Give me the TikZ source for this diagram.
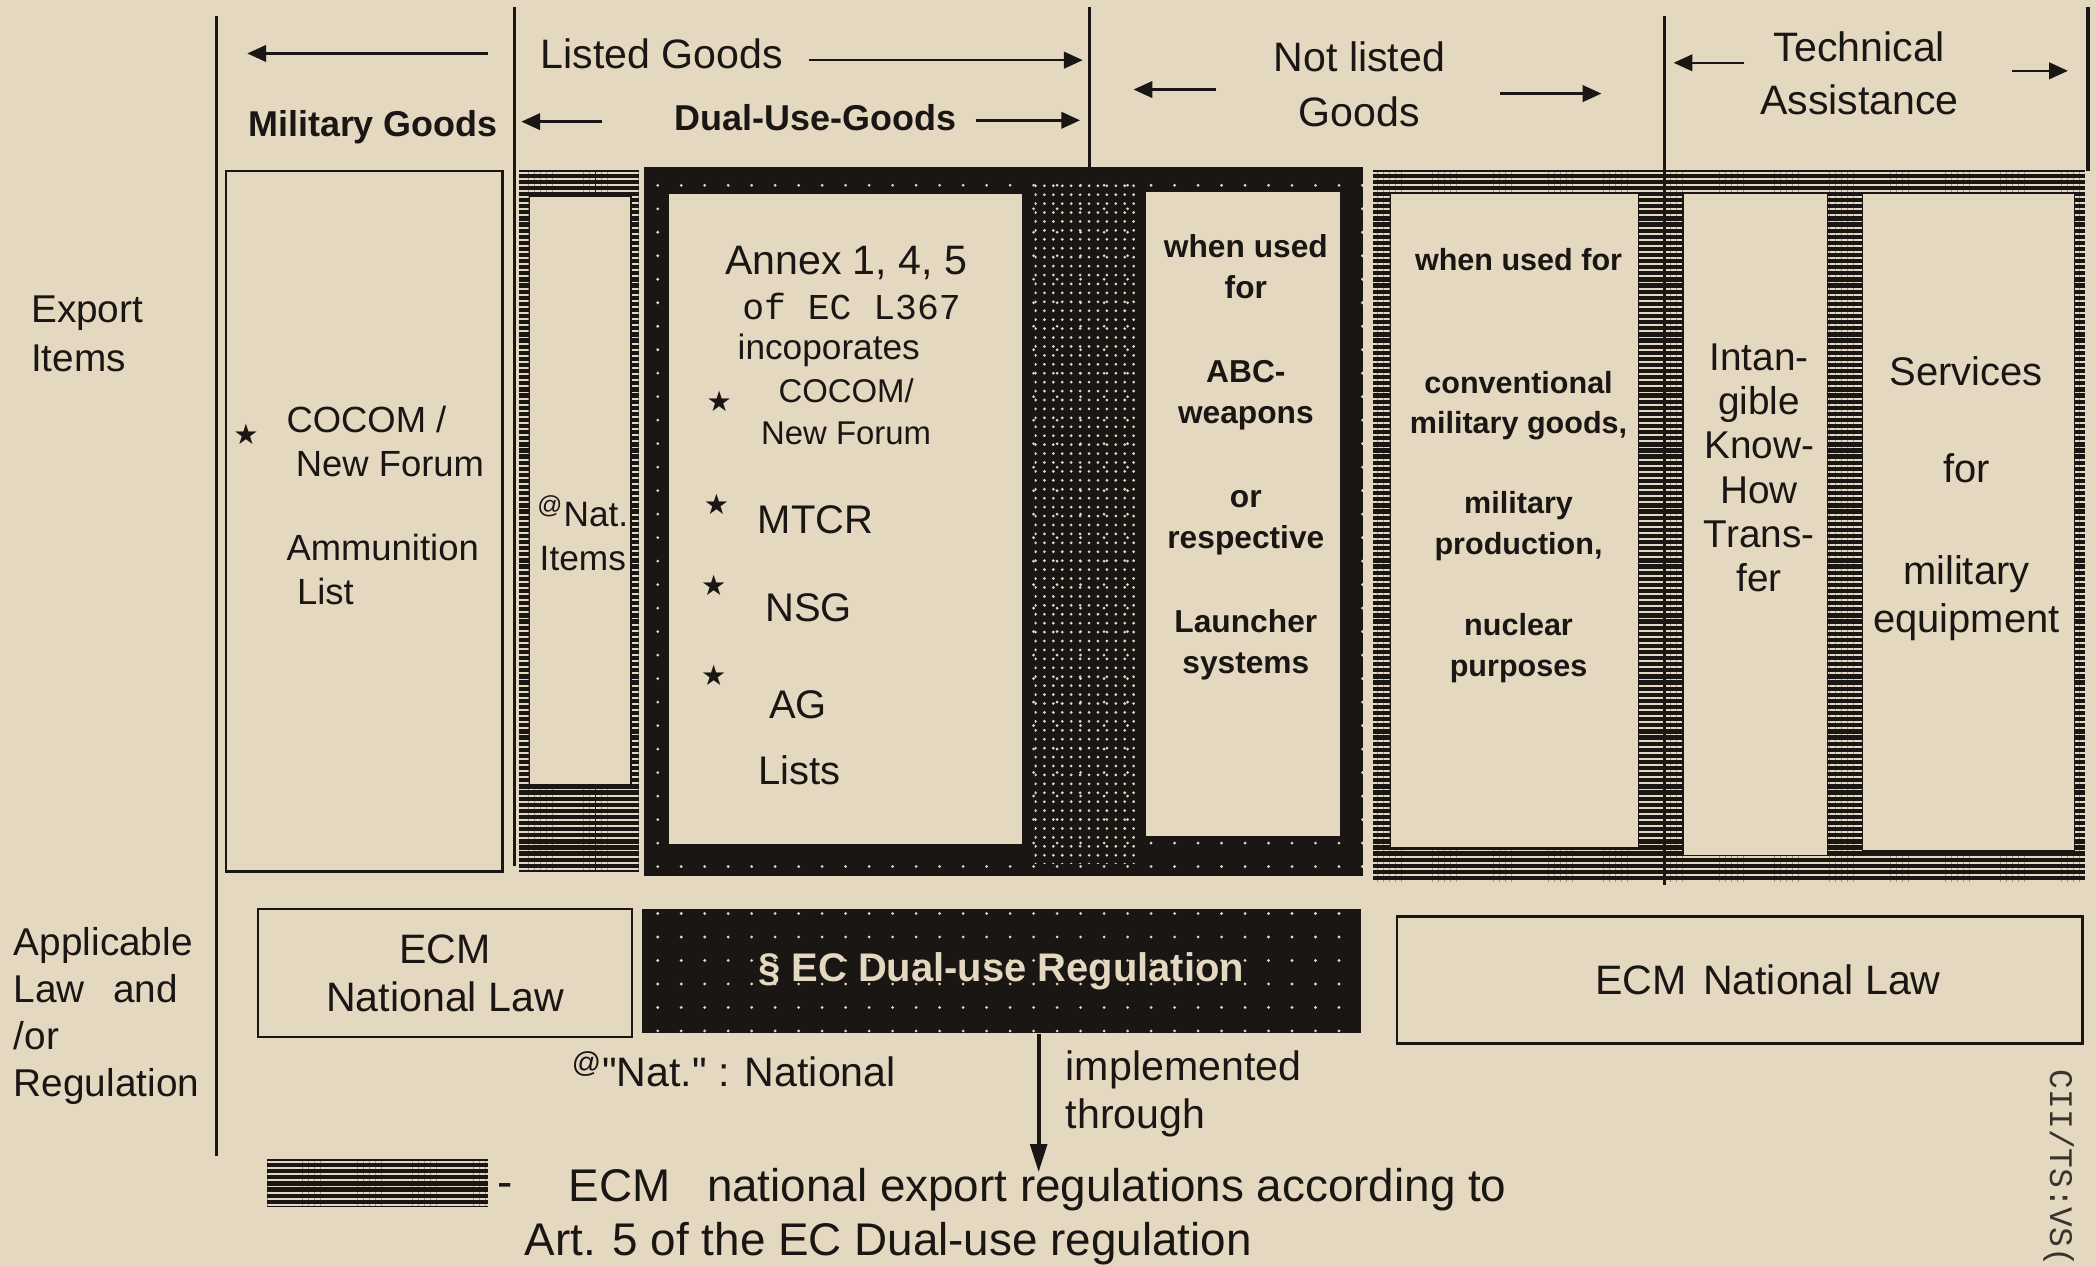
\documentclass[tikz,border=0pt]{standalone}
\usepackage{fontspec}
\setmainfont{Liberation Sans}[Ligatures=TeXOff]
\newfontfamily\typefont{Liberation Mono}
\newfontfamily\starfont{DejaVu Sans}
\usetikzlibrary{arrows.meta,patterns.meta}
\definecolor{paper}{RGB}{229,216,193}
\definecolor{ink}{RGB}{26,22,20}
\tikzset{
  fs/.style 2 args={font=\fontsize{#1}{#2}\selectfont},
  fsb/.style 2 args={font=\bfseries\fontsize{#1}{#2}\selectfont},
  lbl/.style={text=ink, inner sep=0pt, align=center},
  colrule/.style={draw=ink, line width=1.4pt},
  hdarrow/.style={draw=ink, line width=1.1pt, -{Triangle[length=8pt,width=7pt]}},
  downarrow/.style={draw=ink, line width=1.8pt, -{Triangle[length=12pt,width=7pt]}},
  thinbox/.style={draw=ink, line width=1pt},
  pocket/.style={fill=paper, draw=ink, line width=.5pt},
  dotframe/.style={fill=ink, postaction={pattern={Dots[distance=10pt,radius=.65pt]}, pattern color=paper}},
  dotcolumn/.style={pattern={Dots[distance=3.8pt,radius=.65pt]}, pattern color=paper},
  lineframe/.style={fill=ink, postaction={pattern={Lines[distance=2.6pt,line width=.8pt]}, pattern color=paper}},
  starmark/.style={text=ink, inner sep=0pt, font=\starfont\fontsize{12}{12}\selectfont}
}

\begin{document}
\begin{tikzpicture}[x=0.2mm,y=-0.2mm]
\useasboundingbox (0,0) rectangle (1568,947);
\fill[paper] (0,0) rectangle (1568,947);
\clip (0,0) rectangle (1568,947);

\path[lineframe] (388,127) rectangle (478,652);
\path[pocket] (396,147) rectangle (472,587);
\path[dotframe] (482,125) rectangle (1020,655);
\path[dotcolumn] (774,134) rectangle (849,646);
\path[pocket] (500,145) rectangle (765,632);
\path[pocket] (857,143) rectangle (1003,626);
\path[lineframe] (1027,127) rectangle (1560,660);
\path[pocket] (1040,145) rectangle (1226,634);
\path[pocket] (1259,145) rectangle (1367,640);
\path[pocket] (1393,145) rectangle (1552,636);
\draw[thinbox] (169,128) rectangle (376,652);

\draw[colrule] (162,12) -- (162,865);
\draw[colrule] (385,5) -- (385,648);
\draw[colrule] (815,5) -- (815,125);
\draw[colrule] (1245,12) -- (1245,662);
\draw[colrule] (1562,5) -- (1562,128);

\node[lbl, fs={17.5}{23.3}] (listed) at (495,40) {Listed Goods};
\node[lbl, fsb={15.3}{18}] (military) at (279,95) {Military Goods};
\node[lbl, fsb={15.3}{18}] (dualuse) at (610,88) {Dual-Use-Goods};
\node[lbl, fs={17.5}{23.3}] (notlisted) at (1017,63) {Not listed\\Goods};
\node[lbl, fs={17.5}{22.8}] (techass) at (1391,55) {Technical\\Assistance};

\coordinate (mgA) at (365,40); \coordinate (mgB) at (185,40);
\coordinate (lgA) at (605,45); \coordinate (lgB) at (810,45);
\coordinate (duA) at (450,91); \coordinate (duB) at (390,91);
\coordinate (duC) at (730,90); \coordinate (duD) at (808,90);
\coordinate (nlA) at (910,67); \coordinate (nlB) at (848,67);
\coordinate (nlC) at (1122,70); \coordinate (nlD) at (1198,70);
\coordinate (taA) at (1305,47); \coordinate (taB) at (1252,47);
\coordinate (taC) at (1505,53); \coordinate (taD) at (1547,53);
\foreach \s/\e in {mgA/mgB,lgA/lgB,duA/duB,duC/duD,nlA/nlB,nlC/nlD,taA/taB,taC/taD}
  \draw[hdarrow] (\s) -- (\e);

\node[lbl, fs={16.5}{21}, align=left, anchor=west] (export) at (23,250) {Export\\Items};
\node[lbl, fs={16.5}{20}, align=left, anchor=west] (applic) at (10,760) {Applicable\\Law\hspace{12pt}and\\/or\\Regulation};

\node[starmark] (st0) at (184,325) {★};
\node[lbl, fs={15.5}{18.8}, align=left, anchor=west] (milist) at (214,378) {COCOM /\\\hspace*{4pt}New Forum\\[17pt]Ammunition\\\hspace*{4.5pt}List};
\node[lbl, fs={15}{18.8}] (natitems) at (436,399) {\textsuperscript{@}Nat.\\Items};

\node[lbl, fs={17.5}{20}] (annex) at (633,197) {Annex 1, 4, 5};
\node[lbl, font=\typefont\fontsize{15.5}{18}\selectfont] (eclaw) at (637,229) {of EC L367};
\node[lbl, fs={15}{18}] (incorp) at (620,262) {incoporates};
\node[starmark] (st1) at (538,300) {★};
\node[lbl, fs={14}{18.2}] (cocom) at (633,308) {COCOM/\\New Forum};
\node[starmark] (st2) at (536,377) {★};
\node[lbl, fs={17}{20}] (mtcr) at (610,389) {MTCR};
\node[starmark] (st3) at (534,438) {★};
\node[lbl, fs={17}{20}] (nsg) at (605,455) {NSG};
\node[starmark] (st4) at (534,505) {★};
\node[lbl, fs={17}{20}] (ag) at (597,527) {AG};
\node[lbl, fs={17}{20}] (lists) at (598,576) {Lists};

\node[lbl, fsb={13.5}{17.6}] (abc) at (932,342) {when used\\for\\[18pt]ABC-\\weapons\\[18pt]or\\respective\\[18pt]Launcher\\systems};
\node[lbl, fsb={13}{17.4}] (conv) at (1136,348) {when used for\\[35pt]conventional\\military goods,\\[16.5pt]military\\production,\\[17pt]nuclear\\purposes};
\node[lbl, fs={16.5}{18.8}] (intang) at (1316,350) {Intan-\\gible\\Know-\\How\\Trans-\\fer};
\node[lbl, fs={17}{20.5}] (services) at (1471,373) {Services\\[21pt]for\\[22.8pt]military\\equipment};

\node[lbl, thinbox, fs={17.5}{20.5}, minimum width=56mm, minimum height=19.2mm] (ecmleft) at (333,728) {ECM\\National Law};
\node[lbl, dotframe, text=paper, fsb={17}{20}, minimum width=107.6mm, minimum height=18.6mm] (dureg) at (749,726.5) {§ EC Dual-use Regulation};
\node[lbl, thinbox, fs={17.5}{20}, minimum width=102.6mm, minimum height=19mm] (ecmright) at (1301.5,733) {\hspace*{24pt}ECM\hspace{7pt}National Law};

\node[lbl, fs={17.5}{20}] (natnote) at (549,800) {\textsuperscript{@}"Nat." : National};
\node[lbl, fs={17.5}{20.5}, align=left, anchor=west] (impl) at (797,818) {implemented\\through};
\coordinate (implend) at (777,877);
\draw[downarrow] (dureg.south -| implend) -- (implend);

\node[lineframe, minimum width=33mm, minimum height=7.2mm, inner sep=0pt] (swatch) at (282.5,885) {};
\node[lbl, fs={19.5}{22}, anchor=base] (dash) at (378,896) {-};
\node[lbl, fs={19.5}{22}, anchor=base west] (legend1) at (425,899) {ECM\hspace{0.8em}national export regulations according to};
\node[lbl, fs={19.5}{22}, anchor=base west] (legend2) at (392,939) {Art. 5 of the EC Dual-use regulation};

\node[lbl, text=ink!85!paper, font=\typefont\fontsize{14}{14}\selectfont, rotate=-90, anchor=west] (stamp) at (1540,800) {CII/TS:VS(};
\end{tikzpicture}
\end{document}
